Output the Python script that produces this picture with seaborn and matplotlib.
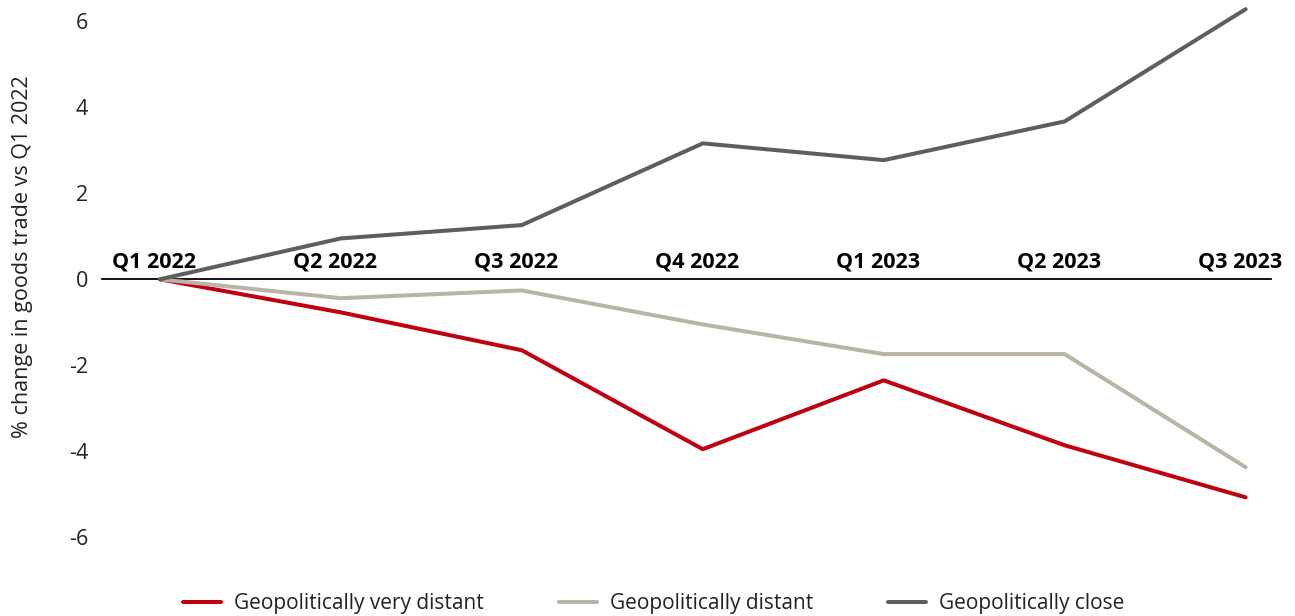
import matplotlib
matplotlib.use("Agg")
import matplotlib.pyplot as plt
import seaborn as sns
import pandas as pd
from matplotlib.lines import Line2D

quarters = ["Q1 2022", "Q2 2022", "Q3 2022", "Q4 2022", "Q1 2023", "Q2 2023", "Q3 2023"]
very_distant = [0.0, -0.77, -1.65, -3.95, -2.35, -3.86, -5.07]
distant = [0.0, -0.44, -0.26, -1.05, -1.74, -1.74, -4.37]
close = [0.0, 0.95, 1.26, 3.16, 2.77, 3.67, 6.28]
series_names = ["Geopolitically very distant", "Geopolitically distant", "Geopolitically close"]
colors = ["#C00010", "#B9B4A6", "#5E5E5E"]
yticks = [-6, -4, -2, 0, 2, 4, 6]

rows = []
for name, vals in zip(series_names, [very_distant, distant, close]):
    for i, (q, v) in enumerate(zip(quarters, vals)):
        rows.append({"idx": i, "quarter": q, "value": v, "series": name})
df = pd.DataFrame(rows)

sns.set_theme(style="white")
plt.rcParams["font.family"] = ["Open Sans", "DejaVu Sans"]
plt.rcParams["axes.unicode_minus"] = False

fig = plt.figure(figsize=(12.95, 6.16), dpi=100)
ax = fig.add_axes([102 / 1295, 1 - 558 / 616, (1271 - 102) / 1295, (558 - 4) / 616])

sns.lineplot(data=df, x="idx", y="value", hue="series", hue_order=series_names,
             palette=colors, linewidth=2.9, ax=ax, legend=False, sort=False)

ax.set_xlim(-0.32, 6.14)
ax.set_ylim(-6.48, 6.4)
ax.set_yticks(yticks)
ax.set_yticklabels([str(t) for t in yticks], fontsize=15.5, color="#222222")
ax.tick_params(axis="y", length=0, pad=10)
ax.set_xticks([])
ax.set_xlabel("")
ax.set_ylabel("% change in goods trade vs Q1 2022", fontsize=15.5, color="#222222")
ax.yaxis.set_label_coords(-0.059, 0.543)
for s in ["top", "right", "left"]:
    ax.spines[s].set_visible(False)
ax.spines["bottom"].set_position(("data", 0))
ax.spines["bottom"].set_color("black")
ax.spines["bottom"].set_linewidth(1.3)
ax.spines["bottom"].set_zorder(1)

for i, q in enumerate(quarters):
    ax.annotate(q, xy=(i, 0), xytext=(-4, 5), textcoords="offset points",
                ha="center", va="bottom", fontsize=15.5, fontweight="bold", color="black")

handles = [Line2D([0], [0], color=c, lw=2.9) for c in colors]
fig.legend(handles, series_names, loc="center", bbox_to_anchor=(0.5 + 6 / 1295, 1 - 604 / 616),
           ncol=3, frameon=False, fontsize=15, handlelength=1.85, columnspacing=3.6,
           handletextpad=0.6, labelcolor="#222222")

fig.savefig("out.png", dpi=100)
